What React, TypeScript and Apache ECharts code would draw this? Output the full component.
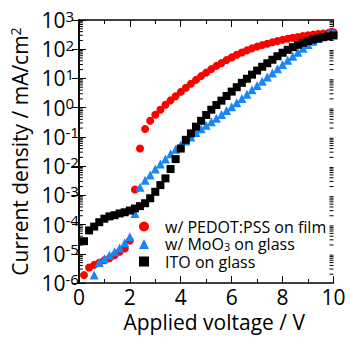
import React, { useEffect, useRef } from "react";
import * as echarts from "echarts";

// Applied voltage (V) for each series
const voltagePedot = [0.2,0.4,0.6,0.8,1.0,1.2,1.4,1.6,1.8,2.0,2.2,2.4,2.6,2.8,3.0,3.2,3.4,3.6,3.8,4.0,4.2,4.4,4.6,4.8,5.0,5.2,5.4,5.6,5.8,6.0,6.2,6.4,6.6,6.8,7.0,7.2,7.4,7.6,7.8,8.0,8.2,8.4,8.6,8.8,9.0,9.2,9.4,9.6,9.8,10.0];
// log10 of current density (mA/cm2)
const logJPedot = [-5.73,-5.47,-5.38,-5.31,-5.22,-5.15,-5.05,-4.93,-4.82,-4.55,-2.8,-1.4,-0.73,-0.45,-0.24,-0.07,0.1,0.25,0.39,0.54,0.68,0.82,0.95,1.08,1.2,1.32,1.43,1.53,1.63,1.72,1.81,1.89,1.96,2.03,2.09,2.14,2.19,2.24,2.28,2.32,2.36,2.39,2.42,2.45,2.48,2.5,2.52,2.54,2.56,2.58];

const voltageMoO3 = [0.6,0.8,1.0,1.2,1.4,1.6,1.8,2.0,2.2,2.4,2.6,2.8,3.0,3.2,3.4,3.6,3.8,4.0,4.2,4.4,4.6,4.8,5.0,5.2,5.4,5.6,5.8,6.0,6.2,6.4,6.6,6.8,7.0,7.2,7.4,7.6,7.8,8.0,8.2,8.4,8.6,8.8,9.0,9.2,9.4,9.6,9.8,10.0];
const logJMoO3 = [-5.73,-5.3,-5.17,-5.05,-4.93,-4.8,-4.62,-4.42,-3.62,-2.72,-2.48,-2.3,-2.1,-1.93,-1.76,-1.58,-1.42,-1.28,-1.14,-1.0,-0.85,-0.72,-0.6,-0.48,-0.36,-0.23,-0.1,0.03,0.17,0.31,0.46,0.61,0.76,0.9,1.05,1.19,1.33,1.48,1.62,1.76,1.9,2.03,2.16,2.27,2.37,2.46,2.53,2.58];

const voltageITO = [0.2,0.4,0.6,0.8,1.0,1.2,1.4,1.6,1.8,2.0,2.2,2.4,2.6,2.8,3.0,3.2,3.4,3.6,3.8,4.0,4.2,4.4,4.6,4.8,5.0,5.2,5.4,5.6,5.8,6.0,6.2,6.4,6.6,6.8,7.0,7.2,7.4,7.6,7.8,8.0,8.2,8.4,8.6,8.8,9.0,9.2,9.4,9.6,9.8,10.0];
const logJITO = [-4.57,-4.2,-4.07,-3.92,-3.8,-3.72,-3.68,-3.62,-3.58,-3.52,-3.45,-3.37,-3.27,-3.1,-2.88,-2.65,-2.42,-2.1,-1.76,-1.4,-1.1,-0.88,-0.65,-0.45,-0.25,-0.07,0.09,0.24,0.4,0.55,0.7,0.85,0.99,1.13,1.27,1.4,1.52,1.64,1.76,1.88,1.98,2.07,2.15,2.22,2.28,2.33,2.37,2.41,2.44,2.47];

const seriesNames = ["w/ PEDOT:PSS on film", "w/ MoO3 on glass", "ITO on glass"];
const xTickValues = [0, 2, 4, 6, 8, 10];
const yDecades = [-6, -5, -4, -3, -2, -1, 0, 1, 2, 3];
const logMinorMultipliers = [2, 3, 4, 5, 6, 7, 8, 9];

const FONT = "Open Sans";

function toPairs(xs: number[], logs: number[]) {
  return xs.map((x, i) => [x, Math.pow(10, logs[i])]);
}

export default function App() {
  const ref = useRef<HTMLDivElement>(null);
  useEffect(() => {
    if (!ref.current) return;
    const chart = echarts.init(ref.current, undefined, { renderer: "svg" });

    const minorVals: number[][] = [];
    for (let i = 0; i < yDecades.length - 1; i++) {
      for (const m of logMinorMultipliers) minorVals.push([0, m * Math.pow(10, yDecades[i])]);
    }

    const axisLine = { show: true, lineStyle: { color: "#000", width: 1.5 } };
    const xCommon = {
      type: "value" as const,
      min: xTickValues[0],
      max: xTickValues[xTickValues.length - 1],
      interval: 2,
      axisLine,
      axisTick: { show: true, inside: true, length: 7, lineStyle: { color: "#000", width: 1 } },
      minorTick: { show: true, splitNumber: 2, length: 4, lineStyle: { color: "#000", width: 1 } },
      splitLine: { show: false },
    };
    const yCommon = {
      type: "log" as const,
      logBase: 10,
      min: Math.pow(10, yDecades[0]),
      max: Math.pow(10, yDecades[yDecades.length - 1]),
      splitNumber: 9,
      axisLine,
      axisTick: { show: true, inside: true, length: 7, lineStyle: { color: "#000", width: 1 } },
      splitLine: { show: false },
    };

    const legendRich = {
      t: { fontFamily: FONT, fontSize: 16, color: "#000", lineHeight: 16 },
      sub: { fontFamily: FONT, fontSize: 11, color: "#000", verticalAlign: "bottom", lineHeight: 6 },
    };

    chart.setOption({
      animation: false,
      grid: { left: 72.5, right: 16.5, top: 20, bottom: 55, containLabel: false },
      legend: {
        data: seriesNames,
        orient: "vertical",
        left: 139,
        top: 218.5,
        padding: 0,
        itemWidth: 10,
        itemHeight: 10,
        itemGap: 1.5,
        textStyle: { fontFamily: FONT, fontSize: 16, color: "#000", lineHeight: 16, padding: [0, 0, 0, 11], rich: legendRich },
        formatter: (name: string) => {
          if (name.indexOf("MoO3") >= 0) return "{t|w/ MoO}{sub|3}{t| on glass}";
          return "{t|" + name + "}";
        },
      },
      xAxis: [
        {
          ...xCommon,
          position: "bottom",
          name: "Applied voltage / V",
          nameLocation: "middle",
          nameGap: 27,
          nameTextStyle: { fontFamily: FONT, fontSize: 21, color: "#000", padding: [0, 0, 0, 16] },
          axisLabel: { fontFamily: FONT, fontSize: 21, color: "#000", margin: 3 },
        },
        { ...xCommon, position: "top", axisLabel: { show: false } },
      ],
      yAxis: [
        {
          ...yCommon,
          position: "left",
          name: "{a|Current density / mA/cm}{s|2}",
          nameLocation: "middle",
          nameGap: 42,
          nameTextStyle: {
            rich: {
              a: { fontFamily: FONT, fontSize: 21, color: "#000", lineHeight: 24 },
              s: { fontFamily: FONT, fontSize: 14, color: "#000", verticalAlign: "top", lineHeight: 16 },
            },
          },
          axisLabel: {
            margin: 37.5,
            align: "left",
            formatter: (v: number) => "{b|10}{s|" + Math.round(Math.log10(v)) + "}",
            rich: {
              b: { fontFamily: FONT, fontSize: 21, color: "#000", lineHeight: 24 },
              s: { fontFamily: FONT, fontSize: 15, color: "#000", verticalAlign: "top", lineHeight: 15 },
            },
          },
        },
        { ...yCommon, position: "right", axisLabel: { show: false } },
      ],
      series: [
        {
          type: "custom",
          name: "minorTicks",
          silent: true,
          xAxisIndex: 0,
          yAxisIndex: 0,
          data: minorVals,
          encode: { x: 0, y: 1 },
          clip: false,
          z: 1,
          renderItem: (params: any, api: any) => {
            const pt = api.coord([0, api.value(1)]);
            const cs = params.coordSys;
            const y = pt[1];
            return {
              type: "group",
              children: [
                { type: "line", shape: { x1: cs.x, y1: y, x2: cs.x + 4, y2: y }, style: { stroke: "#000", lineWidth: 1 } },
                { type: "line", shape: { x1: cs.x + cs.width - 4, y1: y, x2: cs.x + cs.width, y2: y }, style: { stroke: "#000", lineWidth: 1 } },
              ],
            };
          },
        },
        {
          type: "scatter",
          name: seriesNames[0],
          symbol: "circle",
          symbolSize: 8,
          itemStyle: { color: "#ff0000", opacity: 1 },
          data: toPairs(voltagePedot, logJPedot),
          z: 3,
        },
        {
          type: "scatter",
          name: seriesNames[1],
          symbol: "triangle",
          symbolSize: 9,
          itemStyle: { color: "#1a86f5", opacity: 1 },
          data: toPairs(voltageMoO3, logJMoO3),
          z: 3,
        },
        {
          type: "scatter",
          name: seriesNames[2],
          symbol: "rect",
          symbolSize: 8,
          itemStyle: { color: "#000000", opacity: 1 },
          data: toPairs(voltageITO, logJITO),
          z: 3,
        },
      ],
    });
    return () => chart.dispose();
  }, []);
  return <div ref={ref} style={{ width: 350, height: 338, position: "absolute", left: 0, top: 0 }} />;
}
